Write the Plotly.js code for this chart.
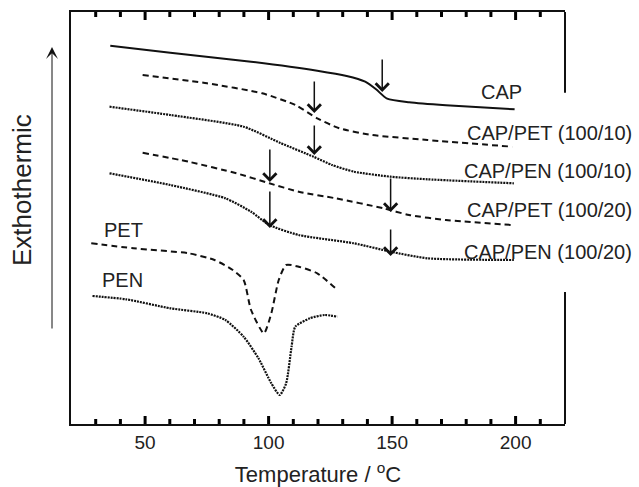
<!DOCTYPE html>
<html>
<head>
<meta charset="utf-8">
<script src="https://cdn.plot.ly/plotly-3.0.1.min.js"></script>
<style>html,body{margin:0;padding:0;background:#fff;}#chart{width:639px;height:487px;}</style>
</head>
<body>
<div id="chart"></div>
<script>
// Temperature (°C) and heat-flow signal (arbitrary units, offset curves)
const capT   = [35.9, 60.2, 92.9, 119.7, 131.6, 139.1, 143.5, 148.0, 156.9, 171.8, 199.6];
const capY   = [378.3, 371.3, 362.3, 353.3, 348, 342.3, 334.7, 325.3, 321.7, 318.7, 314.7];

const pet10T = [49.0, 75.1, 97.4, 110.8, 119.7, 128.6, 142.0, 164.3, 198.6];
const pet10Y = [349, 340.7, 330.7, 319, 305.7, 295.7, 289, 284, 277.3];

const pen10T = [35.6, 60.2, 89.9, 104.8, 118.2, 125.7, 134.6, 149.4, 164.3, 199.3];
const pen10Y = [317.3, 309, 297.3, 281, 267.3, 259, 252.3, 247.3, 244.7, 240.7];

const pet20T = [49.0, 67.6, 87.0, 100.3, 112.2, 127.1, 146.5, 156.9, 171.8, 198.6];
const pet20Y = [271.3, 262.3, 250.7, 240.7, 232.3, 225.7, 215.7, 209, 204, 199];

const pen20T = [35.6, 60.2, 82.5, 92.9, 100.3, 112.2, 134.6, 149.4, 164.3, 199.3];
const pen20Y = [250.7, 239, 225.7, 212.3, 199, 189, 180.7, 172.3, 165.7, 164];

const petT   = [28.2, 45.3, 67.6, 78.1, 85.5, 89.9, 92.9, 98.1, 101.1, 104.1, 107.1, 112.2, 119.7, 127.1];
const petY   = [180.7, 175.7, 170.7, 164, 154, 144, 114, 90.7, 110.7, 144, 159, 157.3, 150.7, 135.7];

const penT   = [28.7, 42.3, 60.2, 75.1, 82.5, 89.9, 95.9, 101.1, 104.5, 107.1, 109.3, 110.8, 116.7, 122.7, 127.9];
const penY   = [128, 124.7, 115.7, 110.7, 104, 87.3, 65.7, 40.7, 29, 40.7, 77.3, 97.3, 105.7, 109, 107.3];

// Glass-transition arrows: temperature, tip and tail signal
const arrowT    = [146.0, 118.5, 118.5, 100.5, 149.4, 100.5, 149.4];
const arrowTip  = [332, 311, 269, 242, 212, 196, 168];
const arrowTail = [366, 344, 300, 276, 247, 234, 196];

// Curve labels
const labelText = ["CAP", "CAP/PET (100/10)", "CAP/PEN (100/10)", "CAP/PET (100/20)", "CAP/PEN (100/20)"];
const labelY    = [332.5, 291, 253, 214, 172.5];
const sideText  = ["PET", "PEN"];
const sideT     = [41.2, 40.8];
const sideY     = [194, 144.5];

// Axis ticks
const xRange     = [20, 220];
const yRange     = [0, 412];
const majorTicks = [50, 100, 150, 200];
const minorTicks = [30, 40, 60, 70, 80, 90, 110, 120, 130, 140, 160, 170, 180, 190, 210];

const C = '#111';
const DASH = '6px,4px';
const DOT = '2px,1px';

function tr(x, y, dash, w) {
  return {x: x, y: y, type: 'scatter', mode: 'lines', hoverinfo: 'skip',
          line: {color: C, width: w, dash: dash, shape: 'spline', smoothing: 0.6}};
}

const data = [
  tr(capT, capY, 'solid', 2),
  tr(pet10T, pet10Y, DASH, 2),
  tr(pen10T, pen10Y, DOT, 2.2),
  tr(pet20T, pet20Y, DASH, 2),
  tr(pen20T, pen20Y, DOT, 2.2),
  tr(petT, petY, DASH, 2),
  tr(penT, penY, DOT, 2.2)
];

const font = {family: 'Liberation Sans, Arial, sans-serif', color: '#222'};
const annotations = [];
for (let i = 0; i < arrowT.length; i++) {
  annotations.push({x: arrowT[i], y: arrowTip[i], xref: 'x', yref: 'y',
    ax: arrowT[i], ay: arrowTail[i], axref: 'x', ayref: 'y',
    text: '', showarrow: true, arrowhead: 4, arrowsize: 1.7, arrowwidth: 1.5, arrowcolor: C});
}
for (let i = 0; i < labelText.length; i++) {
  annotations.push({x: 1.1397, y: labelY[i], xref: 'paper', yref: 'y', xanchor: 'right', yanchor: 'middle',
    text: labelText[i], showarrow: false, font: Object.assign({size: 20}, font)});
}
annotations[arrowT.length].xanchor = 'center';
annotations[arrowT.length].x = (501 - 71) / 494;
for (let i = 0; i < sideText.length; i++) {
  annotations.push({x: sideT[i], y: sideY[i], xref: 'x', yref: 'y', xanchor: 'center', yanchor: 'middle',
    text: sideText[i], showarrow: false, font: Object.assign({size: 20}, font)});
}
annotations.push({x: (22 - 71) / 494, y: 424 - 190, xref: 'paper', yref: 'y', text: 'Exthothermic',
  xanchor: 'center', yanchor: 'middle',
  textangle: -90, showarrow: false, font: Object.assign({size: 26}, font)});
annotations.push({x: (52 - 71) / 494, y: 377, xref: 'paper', yref: 'y', ax: 0, ay: 283,
  text: '', showarrow: true, arrowhead: 3, arrowsize: 2, arrowwidth: 1, arrowcolor: C});

// frame: right spine (broken where the labels sit) and inward tick marks top and bottom
const shapes = [
  {type: 'line', xref: 'paper', yref: 'y', x0: 1, x1: 1, y0: 331.3, y1: 412, line: {color: C, width: 2}},
  {type: 'line', xref: 'paper', yref: 'y', x0: 1, x1: 1, y0: 0, y1: 132, line: {color: C, width: 2}}
];
function addTicks(vals, len) {
  vals.forEach(function (v) {
    shapes.push({type: 'line', layer: 'above', xref: 'x', yref: 'y', x0: v, x1: v, y0: yRange[0], y1: yRange[0] + len,
                 line: {color: '#000', width: 3}});
    shapes.push({type: 'line', layer: 'above', xref: 'x', yref: 'y', x0: v, x1: v, y0: yRange[1], y1: yRange[1] - len,
                 line: {color: '#000', width: 3}});
  });
}
addTicks(majorTicks, 8);
addTicks(minorTicks, 5);

const layout = {
  width: 639, height: 487,
  margin: {l: 71, r: 74, t: 12, b: 63},
  paper_bgcolor: '#fff', plot_bgcolor: '#fff',
  showlegend: false,
  font: font,
  xaxis: {
    range: xRange, tickmode: 'array', tickvals: majorTicks, ticks: '',
    showline: true, linewidth: 2, linecolor: C, mirror: true,
    showgrid: false, zeroline: false,
    tickfont: Object.assign({size: 19}, font),
    title: {text: 'Temperature / <sup>o</sup>C', font: Object.assign({size: 22}, font), standoff: 22}
  },
  yaxis: {
    range: yRange, showline: true, linewidth: 2, linecolor: C, mirror: false,
    ticks: '', showticklabels: false, showgrid: false, zeroline: false
  },
  shapes: shapes,
  annotations: annotations
};

Plotly.newPlot('chart', data, layout, {displayModeBar: false});
</script>
</body>
</html>
